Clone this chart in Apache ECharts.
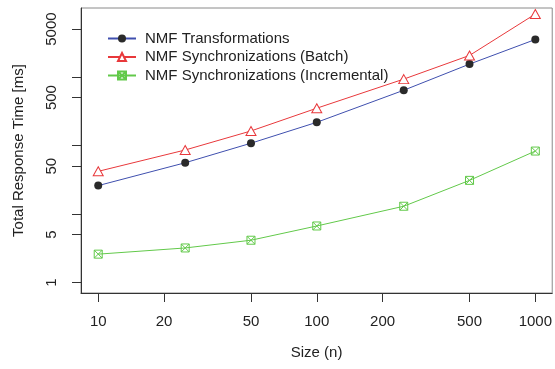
<!DOCTYPE html>
<html>
<head>
    <meta charset="utf-8">
    <title>NMF response time</title>
    <script src="https://cdn.jsdelivr.net/npm/echarts@6/dist/echarts.min.js"></script>
    <style>
        html, body { margin: 0; padding: 0; background: #fff; }
    </style>
</head>
<body>
<div id="main" style="width:555px;height:369px"></div>
<script type="text/javascript">
    var sizes = [10, 25, 50, 100, 250, 500, 1000];
    var transformations = [26, 56, 108, 218, 640, 1540, 3520];
    var syncBatch = [42, 86, 163, 350, 930, 2060, 8280];
    var syncIncremental = [2.6, 3.2, 4.15, 6.7, 13, 31, 83];

    var xTicks = [10, 20, 50, 100, 200, 500, 1000];
    var yTicks = [1, 5, 10, 50, 100, 500, 1000, 5000];
    var yLabels = [1, 5, 50, 500, 5000];

    var font = 'Liberation Sans, Arial, sans-serif';

    function pairs(ys) {
        return sizes.map(function (x, i) {
            return [x, ys[i]];
        });
    }

    // plain numbers, no thousands separator
    function plain(v) {
        return String(Math.round(v));
    }

    var myChart = echarts.init(document.getElementById('main'));
    var option = {
        animation: false,
        textStyle: { fontFamily: font },
        grid: {
            left: 81, right: 1, top: 8, bottom: 76,
            show: true,
            borderColor: '#8a8a8a',
            borderWidth: 1
        },
        legend: {
            orient: 'vertical',
            left: 102,
            top: 26,
            itemWidth: 28,
            itemHeight: 10,
            itemGap: 3.5,
            textStyle: { fontSize: 15, color: '#222', padding: [0, 0, 0, 4] },
            data: ['NMF Transformations', 'NMF Synchronizations (Batch)', 'NMF Synchronizations (Incremental)']
        },
        xAxis: {
            type: 'log',
            logBase: 10,
            min: 8.34,
            max: 1195,
            name: 'Size (n)',
            nameLocation: 'middle',
            nameGap: 52,
            nameTextStyle: { fontSize: 15, color: '#222' },
            axisLine: { show: true, lineStyle: { color: '#333', width: 1 } },
            axisTick: { show: true, length: 9, customValues: xTicks, lineStyle: { color: '#333' } },
            axisLabel: { customValues: xTicks, formatter: plain, fontSize: 15, color: '#222', margin: 21 },
            splitLine: { show: false },
            minorTick: { show: false }
        },
        yAxis: {
            type: 'log',
            logBase: 10,
            min: 0.705,
            max: 10140,
            name: 'Total Response Time [ms]',
            nameLocation: 'middle',
            nameGap: 55,
            nameTextStyle: { fontSize: 15, color: '#222' },
            axisLine: { show: true, lineStyle: { color: '#333', width: 1 } },
            axisTick: { show: true, length: 9, customValues: yTicks, lineStyle: { color: '#333' } },
            axisLabel: { customValues: yLabels, formatter: plain, fontSize: 15, color: '#222', rotate: 90, margin: 22 },
            splitLine: { show: false },
            minorTick: { show: false }
        },
        series: [{
            name: 'NMF Transformations',
            type: 'line',
            data: pairs(transformations),
            symbol: 'circle',
            symbolSize: 8,
            itemStyle: { color: '#2a2a2a' },
            lineStyle: { color: '#3f4fae', width: 1 }
        }, {
            name: 'NMF Synchronizations (Batch)',
            type: 'line',
            data: pairs(syncBatch),
            symbol: 'triangle',
            symbolSize: [10, 9],
            itemStyle: { color: '#fff', borderColor: '#e8383b', borderWidth: 1 },
            lineStyle: { color: '#e8383b', width: 1 }
        }, {
            name: 'NMF Synchronizations (Incremental)',
            type: 'line',
            data: pairs(syncIncremental),
            symbol: 'path://M0,0L10,0L10,10L0,10ZM0,0L10,10M10,0L0,10',
            symbolSize: 8,
            itemStyle: { color: 'rgba(255,255,255,0)', borderColor: '#62c94a', borderWidth: 1 },
            lineStyle: { color: '#62c94a', width: 1 }
        }]
    };
    myChart.setOption(option);
</script>
</body>
</html>
